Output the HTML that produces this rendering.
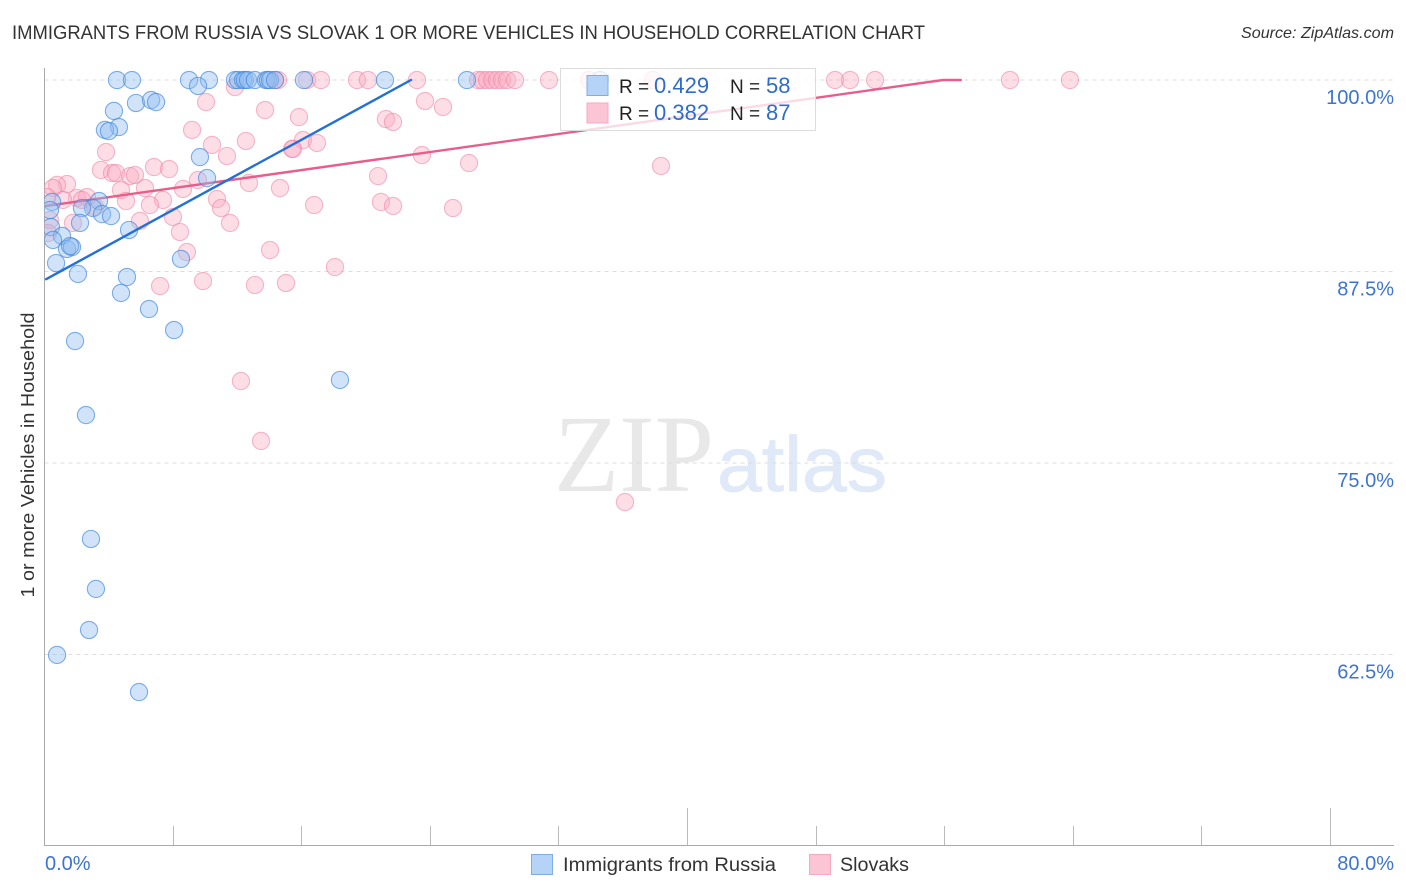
<!DOCTYPE html>
<html lang="en">
<head>
<meta charset="utf-8">
<title>Immigrants from Russia vs Slovak correlation chart</title>
<style>
html,body{margin:0;padding:0;background:#fff;width:1406px;height:892px;overflow:hidden}
svg{display:block;font-family:"Liberation Sans",sans-serif}
</style>
</head>
<body>
<svg id="chart" width="1406" height="892" viewBox="0 0 1406 892">
  <defs><clipPath id="plot-clip"><rect x="44.5" y="60" width="1350" height="785"/></clipPath></defs>
  <text x="12" y="39" font-size="19" fill="#333" textLength="913" lengthAdjust="spacingAndGlyphs">IMMIGRANTS FROM RUSSIA VS SLOVAK 1 OR MORE VEHICLES IN HOUSEHOLD CORRELATION CHART</text>
  <text x="1394" y="38" font-size="16" font-style="italic" fill="#333" text-anchor="end" textLength="153" lengthAdjust="spacingAndGlyphs">Source: ZipAtlas.com</text>
  <g id="watermark">
    <text x="554" y="491" font-family="'Liberation Serif',serif" font-size="110" fill="#e8e8e8" textLength="160" lengthAdjust="spacingAndGlyphs">ZIP</text>
    <text x="717" y="491" font-size="78" fill="#dfe9f8" stroke="#dfe9f8" stroke-width="0.8" textLength="170" lengthAdjust="spacingAndGlyphs">atlas</text>
  </g>
  <g id="grid"></g>
  <g id="axes"></g>
  <g id="marks" clip-path="url(#plot-clip)"></g>
  <text x="34" y="455" font-size="18" fill="#333" text-anchor="middle" transform="rotate(-90 34 455)" textLength="285" lengthAdjust="spacingAndGlyphs">1 or more Vehicles in Household</text>

  <g>
    <rect x="560.5" y="68.5" width="255" height="62" fill="#fff" fill-opacity="0.78" stroke="#dcdcdc"/>
    <rect x="587" y="75.5" width="21" height="20" fill="#b5d2f7" stroke="#7fadea"/>
    <rect x="587" y="103" width="21" height="20" fill="#fcc5d6" stroke="#f4a9c0"/>
    <text x="619" y="93" font-size="19" fill="#222">R =</text>
    <text x="654" y="93" font-size="22" fill="#2f6bcb">0.429</text>
    <text x="730" y="93" font-size="19" fill="#222">N =</text>
    <text x="766" y="93" font-size="22" fill="#2f6bcb">58</text>
    <text x="619" y="120" font-size="19" fill="#222">R =</text>
    <text x="654" y="120" font-size="22" fill="#2f6bcb">0.382</text>
    <text x="730" y="120" font-size="19" fill="#222">N =</text>
    <text x="766" y="120" font-size="22" fill="#2f6bcb">87</text>
  </g>

  <g>
    <g>
      <rect x="531.5" y="854.5" width="21" height="20" fill="#b5d2f7" stroke="#7fadea"/>
      <text x="563" y="871" font-size="19" fill="#333" textLength="213" lengthAdjust="spacingAndGlyphs">Immigrants from Russia</text>
    </g>
    <g>
      <rect x="809.5" y="854.5" width="21" height="20" fill="#fcc5d6" stroke="#f4a9c0"/>
      <text x="840" y="871" font-size="19" fill="#333" textLength="69" lengthAdjust="spacingAndGlyphs">Slovaks</text>
    </g>
  </g>
</svg>
<script>
// x-axis tick values (percent) and which get a long tick
const xTicks = [8, 16, 24, 32, 40, 48, 56, 64, 72, 80];
const xMajorTicks = [40, 80];
const xEndValues = [0, 80];
const xEndLabels = ["0.0%", "80.0%"];
const yTicks = [100, 87.5, 75, 62.5];
const yTickLabels = ["100.0%", "87.5%", "75.0%", "62.5%"];

// Immigrants from Russia: x percent, y percent
const russiaX = [4.51,5.44,8.99,10.23,11.85,12.04,12.35,12.47,12.66,13.09,13.78,13.90,14.03,14.34,16.14,21.18,26.28,34.56,9.55,5.69,6.63,6.94,4.32,4.63,3.76,4.01,9.67,10.11,3.39,3.02,2.33,3.58,4.14,2.21,5.26,0.47,0.34,0.40,1.09,0.53,1.40,1.71,1.59,0.72,2.08,8.49,5.13,4.76,6.50,8.06,1.90,18.38,2.58,2.89,3.20,2.77,0.78,5.88];
const russiaY = [100,100,100,100,100,100,100,100,100,100,100,100,100,100,100,100,100,100,99.61,98.50,98.69,98.56,97.98,96.93,96.74,96.67,94.97,93.60,92.10,91.64,91.64,91.25,91.12,90.67,90.21,92.04,91.51,90.40,89.82,89.56,88.97,89.10,89.16,88.05,87.34,88.32,87.14,86.10,85.05,83.68,82.96,80.42,78.13,70.04,66.78,64.10,62.47,60.05];

// Slovaks: x percent, y percent
const slovakX = [14.34,14.53,16.33,17.20,19.44,20.12,23.17,26.97,27.22,27.53,27.84,28.15,28.46,28.77,29.27,31.38,33.87,37.85,49.18,50.11,51.67,60.06,63.79,11.85,10.05,13.72,23.67,24.79,15.83,21.24,21.68,9.18,12.53,16.08,16.95,15.40,15.46,10.42,11.35,3.83,23.48,20.75,3.51,4.20,4.45,5.32,5.63,6.81,7.75,9.55,12.72,14.65,8.62,6.25,4.76,1.40,0.78,0.53,2.02,2.64,2.33,7.37,6.56,5.07,10.73,10.98,11.54,16.77,20.93,21.68,7.99,5.94,1.77,3.14,1.15,0.16,0.34,0.22,8.43,8.86,14.03,18.07,9.86,7.19,13.09,15.02,12.22,13.47,36.11,38.35,25.41,26.41];
const slovakY = [100,100,100,100,100,100,100,100,100,100,100,100,100,100,100,100,100,100,100,100,100,100,100,99.54,98.56,98.04,98.63,98.24,97.58,97.45,97.26,96.74,96.02,96.08,95.89,95.50,95.50,95.76,95.04,95.30,95.10,93.73,94.13,93.93,93.93,93.73,93.80,94.32,94.19,93.47,93.28,92.95,92.89,92.95,92.82,93.21,93.15,92.95,92.30,92.36,92.17,92.17,91.84,92.10,92.23,91.64,90.67,91.84,92.04,91.78,91.06,90.80,90.67,91.71,92.17,92.36,90.86,90.01,90.08,88.77,88.90,87.79,86.88,86.55,86.62,86.75,80.35,76.44,72.45,94.39,91.64,94.58];

// Trend lines (percent)
const russiaTrendX = [0.1, 22.8];
const russiaTrendY = [87.0, 100];
const slovakTrendX = [0.1, 55.9, 57.0];
const slovakTrendY = [91.78, 100, 100];

const NS = 'http://www.w3.org/2000/svg';
const xScale = v => 44.5 + v * 16.075;
const yScale = v => 80 + (100 - v) * 15.32;

function svgEl(tag, attrs, parent, text) {
  const el = document.createElementNS(NS, tag);
  for (const k in attrs) el.setAttribute(k, attrs[k]);
  if (text !== undefined) el.textContent = text;
  parent.appendChild(el);
  return el;
}

const grid = document.getElementById('grid');
const axes = document.getElementById('axes');
const marks = document.getElementById('marks');
const LABEL_BLUE = '#3d74d3';

yTicks.forEach((t, i) => {
  const y = yScale(t);
  const line = svgEl('line', {x1: 44.5, x2: 1394, y1: y, y2: y, stroke: '#dcdcdc', 'stroke-dasharray': '4 4'}, grid);
  
  
  const label = svgEl('text', {x: 1394, y: y + 24, 'font-size': 20, fill: LABEL_BLUE, 'text-anchor': 'end'}, axes, yTickLabels[i]);
  
  
});

const yAxisLine = svgEl('line', {x1: 44.5, x2: 44.5, y1: 68, y2: 845.5, stroke: '#aaa', 'stroke-width': 1}, axes);


const xAxisLine = svgEl('line', {x1: 44, x2: 1394, y1: 845.5, y2: 845.5, stroke: '#aaa', 'stroke-width': 1}, axes);



xTicks.forEach(t => {
  const x = Math.floor(xScale(t)) + 0.5;
  const top = xMajorTicks.includes(t) ? 808 : 826;
  const tick = svgEl('line', {x1: x, x2: x, y1: top, y2: 845, stroke: '#bbb', 'stroke-width': 1}, axes);
  
  
});

xEndValues.forEach((t, i) => {
  const isLast = i === xEndValues.length - 1;
  const label = svgEl('text', {x: isLast ? 1394 : xScale(t) + 0.5, y: 870, 'font-size': 20, fill: LABEL_BLUE, 'text-anchor': isLast ? 'end' : 'start'}, axes, xEndLabels[i]);
  
  
});

slovakX.forEach((v, i) => {
  const c = svgEl('circle', {cx: xScale(v), cy: yScale(slovakY[i]), r: 8.6, fill: '#f9a8c0', 'fill-opacity': 0.38, stroke: '#ee7fa0', 'stroke-opacity': 0.55, 'stroke-width': 1.1}, marks);
  
  
});

const slovakLine = svgEl('polyline', {points: slovakTrendX.map((v, i) => xScale(v) + ',' + yScale(slovakTrendY[i])).join(' '), fill: 'none', stroke: '#e85d8a', 'stroke-width': 2.4, 'stroke-linecap': 'round'}, marks);



russiaX.forEach((v, i) => {
  const c = svgEl('circle', {cx: xScale(v), cy: yScale(russiaY[i]), r: 8.6, fill: '#8fbcf0', 'fill-opacity': 0.42, stroke: '#3f86dc', 'stroke-opacity': 0.65, 'stroke-width': 1.1}, marks);
  
  
});

const russiaLine = svgEl('line', {x1: xScale(russiaTrendX[0]), y1: yScale(russiaTrendY[0]), x2: xScale(russiaTrendX[1]), y2: yScale(russiaTrendY[1]), stroke: '#2270d8', 'stroke-width': 2.4, 'stroke-linecap': 'round'}, marks);


</script>
</body>
</html>
